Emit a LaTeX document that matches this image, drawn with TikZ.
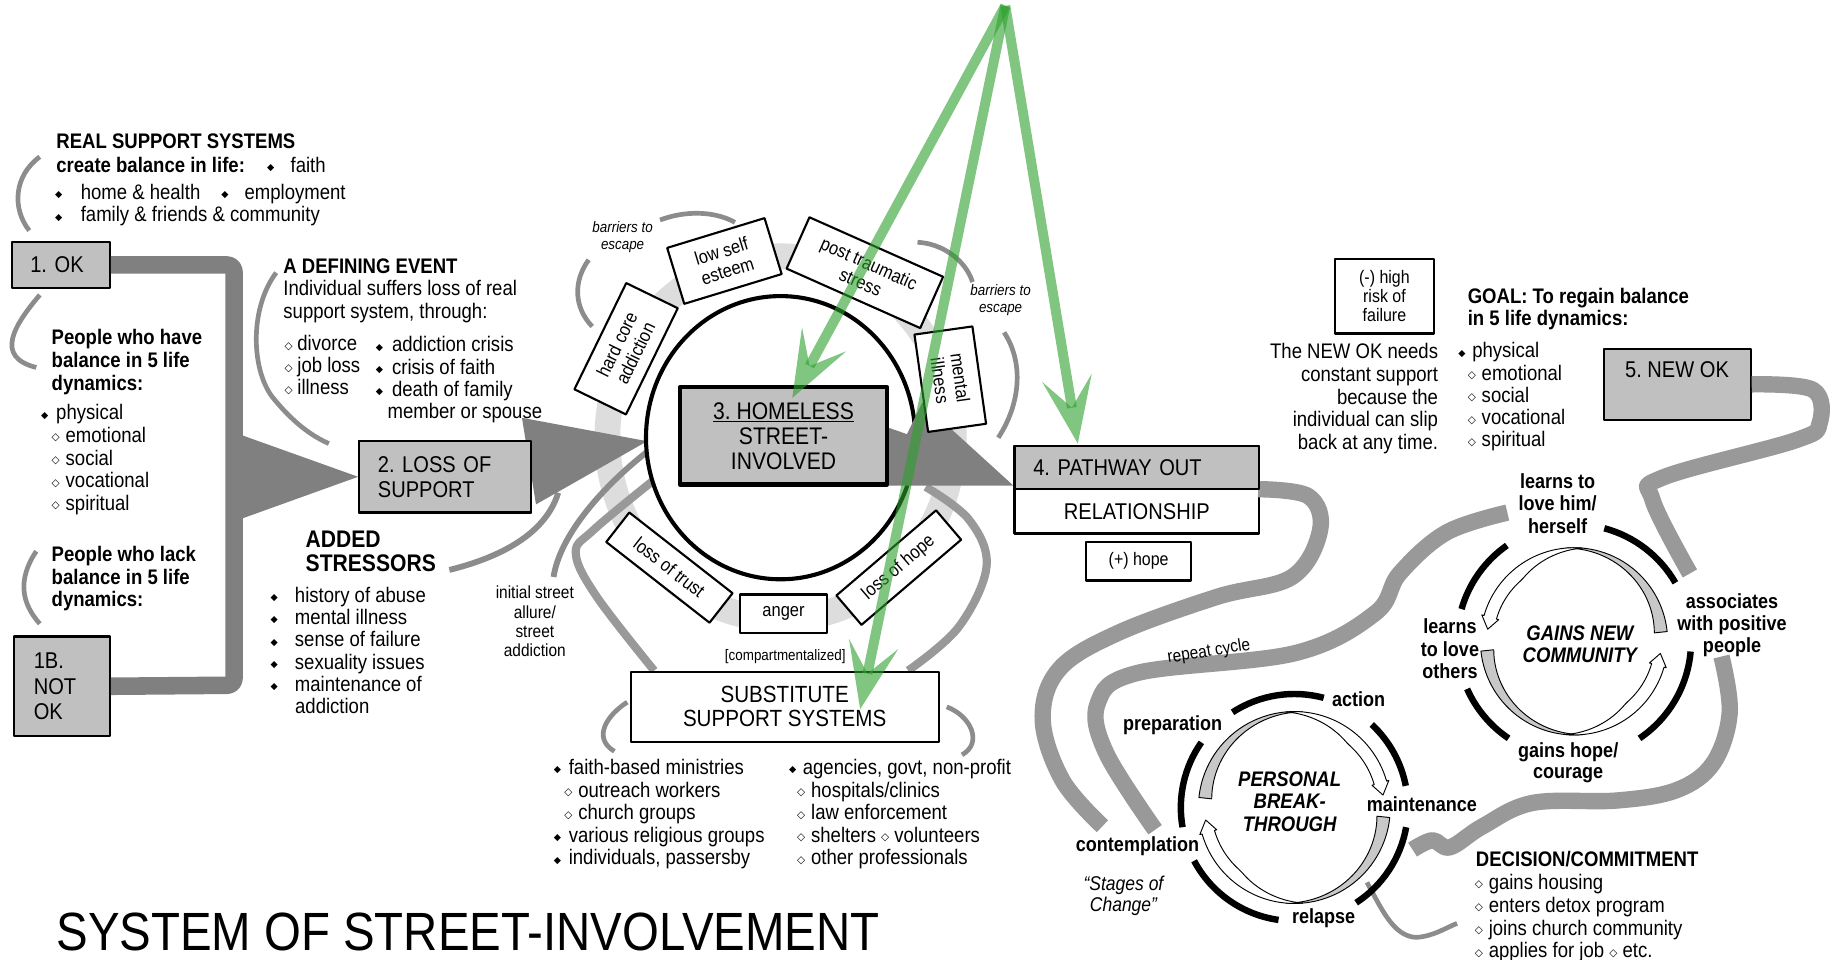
\documentclass[tikz,border=0pt]{standalone}
\usepackage{fontspec}
\setmainfont{Liberation Sans}[FakeStretch=0.88]
\newfontfamily\symfont{DejaVu Sans}
\usetikzlibrary{arrows.meta}
\frenchspacing

\definecolor{boxgrey}{HTML}{C0C0C0}
\definecolor{bargrey}{HTML}{808080}
\definecolor{wiregrey}{HTML}{999999}
\definecolor{bracketgrey}{HTML}{8C8C8C}
\definecolor{ringgrey}{HTML}{DDDDDD}
\definecolor{bandgrey}{HTML}{C8C8C8}
\definecolor{arrowgreen}{HTML}{2CA02C}

\newcommand\dmdf{\raisebox{1.5pt}{\symfont\fontsize{8}{8}\selectfont\symbol{"25C6}}}
\newcommand\dmdo{\raisebox{1.3pt}{\symfont\fontsize{9}{9}\selectfont\symbol{"25C7}}}

\newcommand\halfband[2]{%
    \filldraw[fill=bandgrey, line width=0.8pt]
        plot[domain=95:6, samples=30] (\x:#1)
        -- plot[domain=6:95, samples=30] (\x:{#1-#2*(95-\x)/89}) -- cycle;
    \filldraw[fill=white, line width=0.8pt]
        plot[domain=85:164, samples=30] (\x:#1)
        -- (164:{#1+2}) -- (172:{#1-#2/2}) -- (164:{#1-#2-2})
        -- plot[domain=164:85, samples=30] (\x:{max(#1-#2,#1-#2*(\x-85)/45)}) -- cycle;
}

\tikzset{
    bodytext/.style = {
        inner sep=0pt,
        align=left,
        font=\fontsize{18}{19.3}\selectfont},
    headtext/.style = {
        bodytext,
        font=\fontsize{18}{19.3}\selectfont\bfseries},
    stagetext/.style = {
        inner sep=0pt,
        align=center,
        font=\fontsize{17.5}{19}\selectfont\bfseries},
    smalltext/.style = {
        inner sep=0pt,
        align=center,
        font=\fontsize{15}{16.5}\selectfont},
    barrier/.style = {
        inner sep=0pt,
        align=center,
        font=\fontsize{13}{14}\selectfont\itshape},
    greybox/.style = {
        draw,
        line width=1.8pt,
        fill=boxgrey,
        inner xsep=16pt,
        inner ysep=0pt,
        align=left,
        anchor=north west,
        font=\fontsize{19.5}{21.5}\selectfont},
    whitebox/.style = {
        draw,
        line width=1.8pt,
        fill=white,
        inner sep=0pt,
        align=center},
    satellite/.style = {
        whitebox,
        font=\fontsize{16}{17.5}\selectfont},
    wire/.style = {
        draw=wiregrey,
        line width=14pt},
    bracket/.style = {
        draw=bracketgrey,
        line width=4pt},
    stagearc/.style = {
        draw,
        line width=5.5pt},
    greenarrow/.style = {
        draw=arrowgreen,
        opacity=0.6,
        line width=8.5pt,
        -{Stealth[length=57pt 0 0, width=43pt 0, inset=26pt, line width=0pt, fill=arrowgreen]}}
}

\begin{document}
\begin{tikzpicture}[x=1pt, y=-1pt, line join=round]
\fill[white] (0,0) rectangle (1568,820);
\useasboundingbox (0,0) rectangle (1568,820);

\draw[ringgrey, line width=22pt] (667,374) ellipse [x radius=148, y radius=155];

\draw[bracket] (34,134) .. controls (12,150) and (10,178) .. (25,197);
\draw[bracket] (34,252) .. controls (12,278) and (-5,305) .. (31,314);
\draw[bracket] (31,471) .. controls (15,495) and (18,515) .. (34,533);
\draw[bracket] (236,233) .. controls (212,265) and (215,320) .. (235,342)
    .. controls (250,360) and (265,372) .. (281,379);
\draw[bracket, line width=5pt] (384,487) .. controls (420,478) and (465,460) .. (477,421);
\draw[bracket, line width=5pt] (473,493) .. controls (478,460) and (510,420) .. (553,386);
\draw[bracket] (564,188) .. controls (585,180) and (610,180) .. (628,190);
\draw[bracket] (503,222) .. controls (490,240) and (490,262) .. (506,279);
\draw[bracket] (784,207) .. controls (805,208) and (825,222) .. (831,241);
\draw[bracket] (858,284) .. controls (875,310) and (872,345) .. (853,374);
\draw[bracket] (536,600) .. controls (520,610) and (505,630) .. (525,642);
\draw[bracket] (809,604) .. controls (830,612) and (840,635) .. (822,645);
\draw[bracket] (1168,754) .. controls (1180,775) and (1190,800) .. (1210,801)
    .. controls (1225,800) and (1235,793) .. (1245,789);

\draw[wire, line width=7pt] plot[smooth, tension=0.6] coordinates {(559,573) (510,510) (492,473) (507,453) (559,410)};
\draw[wire, line width=7pt] plot[smooth, tension=0.6] coordinates {(776,573) (819,536) (843,484) (828,444) (791,416)};

\node[greybox, text width=52pt, minimum height=39pt] (ok) at (9,206) {1. OK};
\node[greybox, inner xsep=17pt, text width=48pt, minimum height=85pt, font=\fontsize{19.5}{22}\selectfont] (notok) at (11,543) {1B.\\NOT\\OK};
\node[greybox, text width=115pt, minimum height=61pt] (loss) at (306,376) {2. LOSS OF\\SUPPORT};
\node[greybox, text width=177pt, minimum height=37pt] (pathway) at (866,380) {4. PATHWAY OUT};
\node[whitebox, anchor=north west, minimum width=209pt, minimum height=38pt, font=\fontsize{19.5}{21}\selectfont] (relation) at (866,417) {RELATIONSHIP};
\node[greybox, inner xsep=0pt, minimum width=125pt, minimum height=61pt] (newok) at (1370,297) {};
\node[inner sep=0pt, font=\fontsize{19.5}{21}\selectfont] (newoklbl) at (1433,316) {5. NEW OK};

\draw[wire] plot[smooth, tension=0.6] coordinates {(1075,418) (1118,424) (1128,453) (1104,493) (1040,510) (955,541) (905,572) (891,615) (908,667) (942,706)};
\draw[wire] plot[smooth, tension=0.6] coordinates {(1288,438) (1236,455) (1196,490) (1175,524) (1107,558) (972,575) (938,601) (945,643) (987,709)};
\draw[wire] plot[smooth, tension=0.6] coordinates {(newok.east) (1549,333) (1555,361) (1535,376) (1421,408) (1412,427) (1444,490)};
\draw[wire] plot[smooth, tension=0.6] coordinates {(1471,561) (1478,609) (1464,652) (1433,675) (1382,684) (1310,686) (1267,706) (1239,724) (1224,718) (1207,726)};

\draw[bargrey, line width=15pt, rounded corners=6pt] (ok.east) -| (200,585.5) -- (notok.east);
\fill[bargrey] (207,372) -- (loss.west) -- (207,443) -- cycle;
\fill[bargrey] (446,357) -- (553,377) -- (458,431) -- cycle;
\node[greybox, text width=115pt, minimum height=61pt] at (306,376) {2. LOSS OF\\SUPPORT};

\draw[line width=3.5pt, fill=white] (667,374) ellipse [x radius=115, y radius=121];
\fill[bargrey] (758,365) -- (775,371) -- (788,344) -- (866,415) -- (758,415) -- cycle;
\node[greybox, text width=177pt, minimum height=37pt] at (866,380) {4. PATHWAY OUT};

\node[whitebox, fill=boxgrey, line width=3.5pt, minimum width=177pt, minimum height=83pt, font=\fontsize{20.5}{21.5}\selectfont] (homeless) at (669.5,372.5) {\underline{3. HOMELESS}\\STREET-\\INVOLVED};

\node[satellite, minimum width=101pt, minimum height=49pt, rotate=64] (hardcore) at (535,298) {hard core\\addiction};
\node[satellite, minimum width=87pt, minimum height=50pt, rotate=17] (selfesteem) at (619,223) {low self\\esteem};
\node[satellite, minimum width=125pt, minimum height=48pt, rotate=-24] (trauma) at (739,233) {post traumatic\\stress};
\node[satellite, minimum width=84pt, minimum height=50pt, rotate=-82] (mental) at (812,324) {mental\\illness};
\node[satellite, minimum width=112pt, minimum height=32pt, rotate=-38] (trust) at (572,485) {loss of trust};
\node[satellite, minimum width=75pt, minimum height=33pt] (anger) at (669.5,524.5) {anger};
\node[satellite, minimum width=112pt, minimum height=33pt, rotate=40.5] (hopeloss) at (768,485) {loss of hope};

\node[whitebox, minimum width=263pt, minimum height=60pt, font=\fontsize{20}{20.5}\selectfont] (subst) at (670.5,604) {SUBSTITUTE\\SUPPORT SYSTEMS};
\node[whitebox, minimum width=90pt, minimum height=33pt, font=\fontsize{15.5}{16.5}\selectfont] (hope) at (973,479.5) {(+) hope};
\node[whitebox, minimum width=84pt, minimum height=64pt, font=\fontsize{15.5}{16.5}\selectfont] (risk) at (1183,253) {(-) high\\risk of\\failure};

\node[headtext, anchor=north west] (realhd) at (48,114.5) {REAL SUPPORT SYSTEMS\\[0.7pt]create balance in life:};
\node[bodytext, anchor=base west] (realfaith) at (228,147.5) {\dmdf\hspace{14pt}faith};
\node[bodytext, anchor=north west] (reallist) at (47,157) {\dmdf\hspace{15.7pt}home \& health\hspace{18pt}\dmdf\hspace{13.7pt}employment\\\dmdf\hspace{15.7pt}family \& friends \& community};
\node[headtext, anchor=north west] (havehd) at (44,281.5) {People who have\\balance in 5 life\\dynamics:};
\node[bodytext, anchor=north west] (havelist) at (35,345.5) {\dmdf\hspace{6.7pt}physical\\\hspace*{9pt}\dmdo\hspace{5pt}emotional\\\hspace*{9pt}\dmdo\hspace{5pt}social\\\hspace*{9pt}\dmdo\hspace{5pt}vocational\\\hspace*{9pt}\dmdo\hspace{5pt}spiritual};
\node[headtext, anchor=north west] (lackhd) at (44,466.5) {People who lack\\balance in 5 life\\dynamics:};

\node[headtext, anchor=base west] (defhd) at (242,233.5) {A DEFINING EVENT};
\node[bodytext, anchor=north west] (defdesc) at (242,239.5) {Individual suffers loss of real\\support system, through:};
\node[bodytext, anchor=north west, font=\fontsize{18}{18.7}\selectfont] (deflist) at (243,286.5) {\dmdo\hspace{4pt}divorce\\\dmdo\hspace{4pt}job loss\\\dmdo\hspace{4pt}illness};
\node[bodytext, anchor=north west, font=\fontsize{18}{19}\selectfont] (crislist) at (321,287.5) {\dmdf\hspace{7.7pt}addiction crisis\\\dmdf\hspace{7.7pt}crisis of faith\\\dmdf\hspace{7.7pt}death of family\\\hspace*{10pt}member or spouse};

\node[headtext, anchor=north west, font=\fontsize{20.5}{20.5}\selectfont\bfseries] (addhd) at (261,453.5) {ADDED\\STRESSORS};
\node[bodytext, anchor=north west, font=\fontsize{18}{19}\selectfont] (addlist) at (231,501.5) {\dmdf\hspace{14.7pt}history of abuse\\\dmdf\hspace{14.7pt}mental illness\\\dmdf\hspace{14.7pt}sense of failure\\\dmdf\hspace{14.7pt}sexuality issues\\\dmdf\hspace{14.7pt}maintenance of\\\hspace*{21pt}addiction};
\node[smalltext, anchor=north] (allure) at (457,500.6) {initial street\\allure/\\street\\addiction};

\node[barrier, anchor=north] (barleft) at (532,189.3) {barriers to\\escape};
\node[barrier, anchor=north] (barright) at (855,243.3) {barriers to\\escape};
\node[inner sep=0pt, font=\fontsize{13}{14}\selectfont, anchor=base] (compart) at (671,564.7) {[compartmentalized]};

\node[bodytext, anchor=north west] (faithlist) at (473,648.5) {\dmdf\hspace{6.7pt}faith-based ministries\\\hspace*{9pt}\dmdo\hspace{5pt}outreach workers\\\hspace*{9pt}\dmdo\hspace{5pt}church groups\\\dmdf\hspace{6.7pt}various religious groups\\\dmdf\hspace{6.7pt}individuals, passersby};
\node[bodytext, anchor=north west] (agencylist) at (674,648.5) {\dmdf\hspace{5.7pt}agencies, govt, non-profit\\\hspace*{7pt}\dmdo\hspace{5pt}hospitals/clinics\\\hspace*{7pt}\dmdo\hspace{5pt}law enforcement\\\hspace*{7pt}\dmdo\hspace{5pt}shelters \dmdo\ volunteers\\\hspace*{7pt}\dmdo\hspace{5pt}other professionals};

\node[bodytext, align=right, anchor=north east] (needs) at (1229,293.5) {The NEW OK needs\\constant support\\because the\\individual can slip\\back at any time.};
\node[headtext, anchor=north west, font=\fontsize{18}{18.5}\selectfont\bfseries] (goalhd) at (1254,246.5) {GOAL: To regain balance\\in 5 life dynamics:};
\node[bodytext, anchor=north west, font=\fontsize{18}{19}\selectfont] (goallist) at (1246,292.5) {\dmdf\hspace{5.7pt}physical\\\hspace*{8pt}\dmdo\hspace{5pt}emotional\\\hspace*{8pt}\dmdo\hspace{5pt}social\\\hspace*{8pt}\dmdo\hspace{5pt}vocational\\\hspace*{8pt}\dmdo\hspace{5pt}spiritual};

\begin{scope}[shift={(1345,548)}, yscale=-1]
    \halfband{80}{11}
    \begin{scope}[rotate=180]
        \halfband{80}{11}
    \end{scope}
    \foreach \a/\b in {30/75, 125/164, 204/236, -56/-5}
        \draw[stagearc] (\a:100) arc[start angle=\a, end angle=\b, radius=100];
\end{scope}
\node[stagetext, anchor=north] (lovehim) at (1331,404.7) {learns to\\love him/\\herself};
\node[stagetext, anchor=north] (assoc) at (1480,506.7) {associates\\with positive\\people};
\node[stagetext, anchor=north] (loveothers) at (1239,528.7) {learns\\to love\\others};
\node[stagetext, anchor=north, font=\fontsize{17.5}{17.5}\selectfont\bfseries] (courage) at (1340,634.7) {gains hope/\\courage};
\node[stagetext, anchor=north, font=\fontsize{18}{19}\selectfont\bfseries\itshape] (community) at (1350,534.5) {GAINS NEW\\COMMUNITY};

\begin{scope}[shift={(1106,690)}, yscale=-1]
    \begin{scope}[xscale=-1]
        \halfband{82}{11}
        \begin{scope}[rotate=180]
            \halfband{82}{11}
        \end{scope}
    \end{scope}
    \foreach \a/\b in {75/123, 11/47, -57/-10, 208/262, 145/190}
        \draw[stagearc] (\a:97) arc[start angle=\a, end angle=\b, radius=97];
\end{scope}
\node[stagetext, anchor=base] (action) at (1161,603.3) {action};
\node[stagetext, anchor=base] (prep) at (1002,624.3) {preparation};
\node[stagetext, anchor=base] (maint) at (1215,693.3) {maintenance};
\node[stagetext, anchor=base] (contemp) at (972,727.3) {contemplation};
\node[stagetext, anchor=base] (relapse) at (1131,789.3) {relapse};
\node[stagetext, anchor=north, font=\fontsize{18}{19}\selectfont\bfseries\itshape] (breakthrough) at (1102,659.5) {PERSONAL\\BREAK-\\THROUGH};
\node[inner sep=0pt, align=center, anchor=north, font=\fontsize{17}{18}\selectfont\itshape] (stages) at (960,748.5) {“Stages of\\Change”};

\node[headtext, anchor=base west] (dechd) at (1261,740.5) {DECISION/COMMITMENT};
\node[bodytext, anchor=north west, font=\fontsize{18}{19.6}\selectfont] (declist) at (1260,746.5) {\dmdo\hspace{5pt}gains housing\\\dmdo\hspace{5pt}enters detox program\\\dmdo\hspace{5pt}joins church community\\\dmdo\hspace{5pt}applies for job \dmdo\ etc.};

\node[inner sep=0pt, font=\fontsize{15}{16}\selectfont, rotate=9] (repeat) at (1033,557) {repeat cycle};
\node[inner sep=0pt, anchor=base west, font=\fontsize{46}{50}\selectfont] (title) at (48,812) {SYSTEM OF STREET-INVOLVEMENT};

\coordinate (gsrc) at (859,5);
\coordinate (ghome) at (677,340);
\coordinate (gsubst) at (735,606);
\coordinate (gpath) at (921,379);
\draw[greenarrow] (gsrc) -- (ghome);
\draw[greenarrow] (gsrc) -- (gsubst);
\draw[greenarrow] (gsrc) -- (gpath);

\end{tikzpicture}
\end{document}
